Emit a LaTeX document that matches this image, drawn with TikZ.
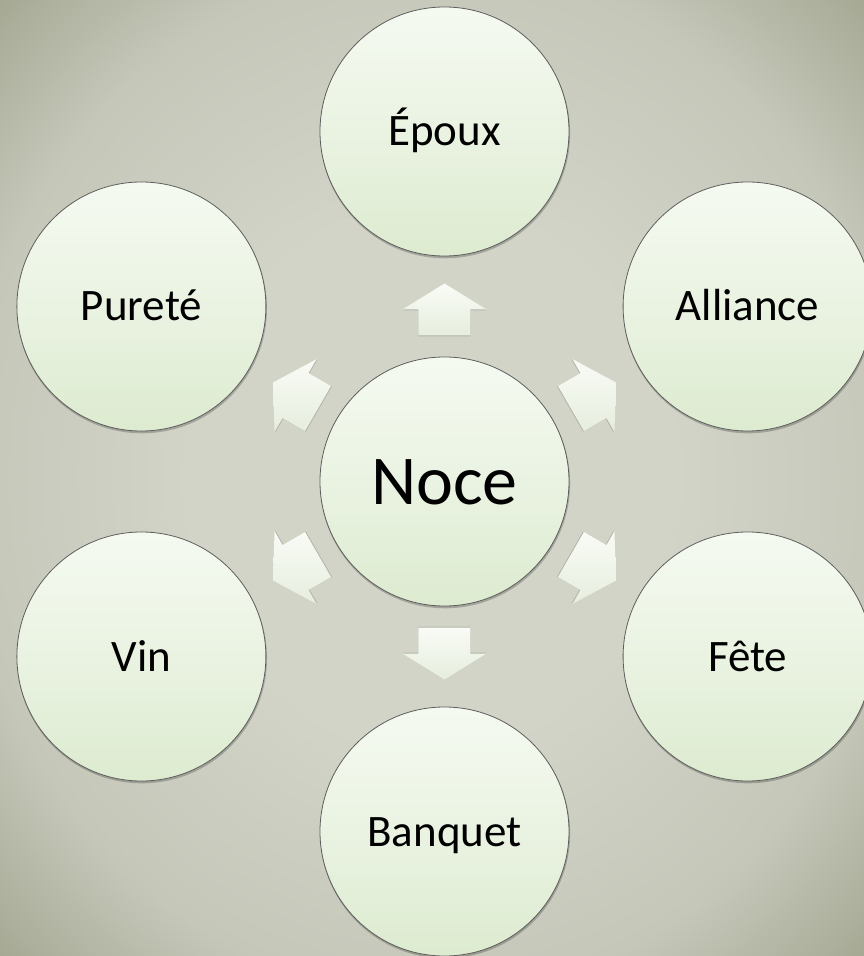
\documentclass[tikz,border=0pt]{standalone}
\usepackage{fontspec}
\setmainfont{Carlito}
\definecolor{bgin}{HTML}{D2D4C8}
\definecolor{bgmid}{HTML}{C5C7B9}
\definecolor{bgout}{HTML}{A3A791}
\definecolor{ctop}{HTML}{F5FAF1}
\definecolor{cmid}{HTML}{EAF3E2}
\definecolor{cbot}{HTML}{DDEBD0}
\definecolor{atop}{HTML}{F9FBF6}
\definecolor{abot}{HTML}{E6EEDE}
\definecolor{edge}{HTML}{5E5E5E}
\pgfdeclareradialshading{bgshade}{\pgfpoint{0bp}{0bp}}{color(0bp)=(bgin); color(14bp)=(bgin); color(27bp)=(bgmid); color(36bp)=(bgout); color(50bp)=(bgout)}
\tikzset{
  bubble/.style={circle, draw=edge, line width=0.8pt, minimum size=249pt, inner sep=0pt,
    top color=ctop, bottom color=cbot, middle color=cmid, text=black,
    font=\fontsize{45}{54}\selectfont, text height=36pt, text depth=7pt},
  hub/.style={bubble, font=\fontsize{70}{84}\selectfont, text height=55pt, text depth=10pt},
  shade under/.style={fill=black, opacity=0.22},
  blockarrow/.style={top color=atop, bottom color=abot, draw=none}
}
\begin{document}
\begin{tikzpicture}[x=1pt,y=1pt]
\useasboundingbox (-444.5,-474.5) rectangle (419.5,481.5);
\fill[shading=bgshade] (-444.5,-474.5) rectangle (419.5,481.5);
\foreach \p in {(0,0),(90:350),(30:350),(-30:350),(-90:350),(-150:350),(150:350)}{
  \fill[shade under] \p ++(0.6,-1.8) circle[radius=125pt];
}
\node[hub] (noce) at (0,0) {Noce};
\node[bubble] (epoux) at (90:350) {Époux};
\node[bubble] (alliance) at (30:350) {Alliance};
\node[bubble] (fete) at (-30:350) {Fête};
\node[bubble] (banquet) at (-90:350) {Banquet};
\node[bubble] (vin) at (-150:350) {Vin};
\node[bubble] (purete) at (150:350) {Pureté};
\foreach \a in {90,30,-30,-90,-150,150}{
  \begin{scope}[rotate=\a]
    \fill[shade under, opacity=0.15, shift={(-1pt,0)}] (146,-26) -- (172,-26) -- (172,-42) -- (198,0) -- (172,42) -- (172,26) -- (146,26) -- cycle;
  \end{scope}
  \begin{scope}[rotate=\a]
    \path[blockarrow] (146,-26) -- (172,-26) -- (172,-42) -- (198,0) -- (172,42) -- (172,26) -- (146,26) -- cycle;
  \end{scope}
}
\end{tikzpicture}
\end{document}
